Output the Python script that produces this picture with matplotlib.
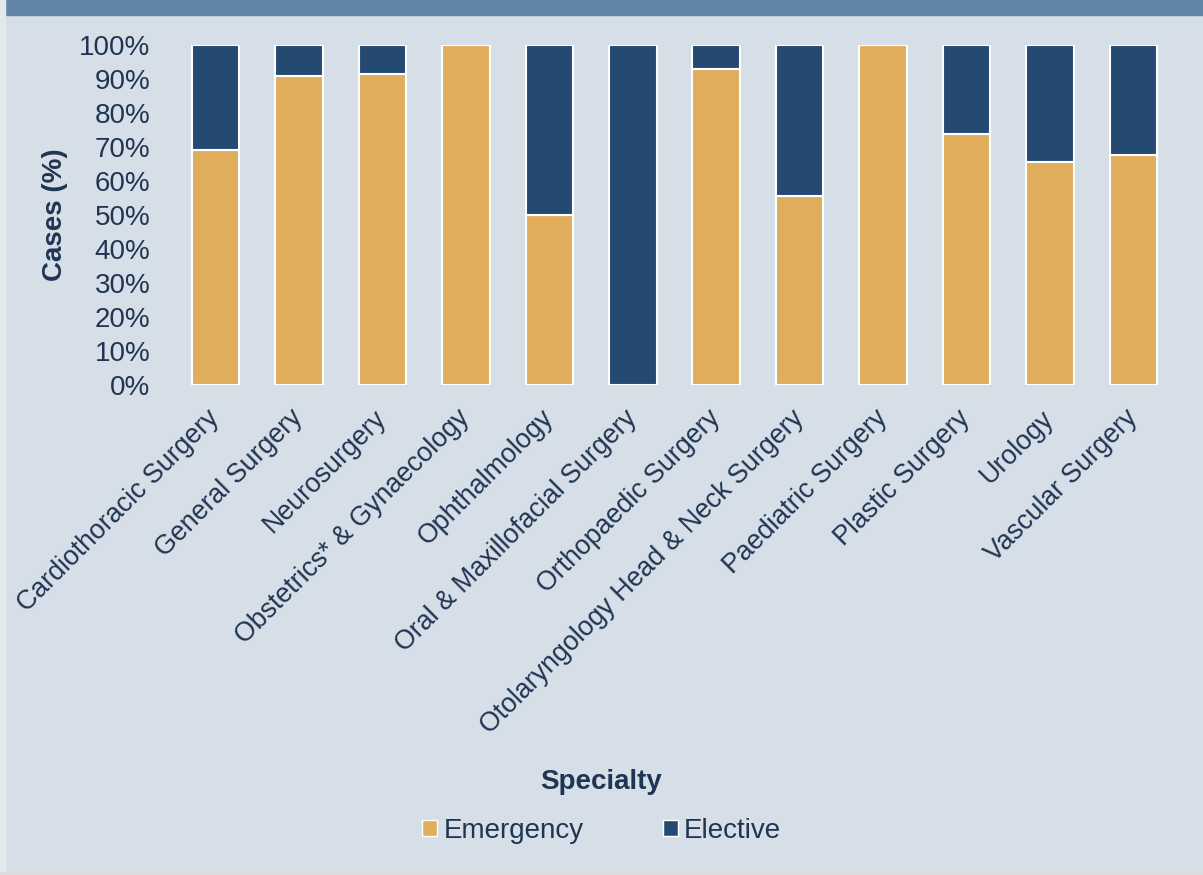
import numpy as np
import matplotlib.pyplot as plt
from matplotlib.patches import Patch, Rectangle

specialties = ['Cardiothoracic Surgery', 'General Surgery', 'Neurosurgery',
               'Obstetrics* & Gynaecology', 'Ophthalmology', 'Oral & Maxillofacial Surgery',
               'Orthopaedic Surgery', 'Otolaryngology Head & Neck Surgery', 'Paediatric Surgery',
               'Plastic Surgery', 'Urology', 'Vascular Surgery']
emergency = [69.1, 90.9, 91.5, 100.0, 50.0, 0.0, 92.9, 55.6, 100.0, 73.8, 65.6, 67.6]
elective = [100 - v for v in emergency]

bg = '#D6DFE8'
navy = '#1F3552'
c_emerg = '#E0AD5C'
c_elect = '#254A72'

plt.rcParams['font.family'] = ['Liberation Sans', 'DejaVu Sans']

fig = plt.figure(figsize=(12.03, 8.75), dpi=100)
fig.patch.set_facecolor(bg)
# top band, side strip
fig.patches.append(Rectangle((0, 1 - 15 / 875), 1, 15 / 875, transform=fig.transFigure,
                             color='#6286AA', zorder=0))
fig.patches.append(Rectangle((0, 0), 5 / 1203, 1, transform=fig.transFigure,
                             color='#E4E9EE', zorder=0))
fig.patches.append(Rectangle((0, 0), 1, 3 / 875, transform=fig.transFigure,
                             color='#DCDCDC', zorder=0))

ax = fig.add_axes([174 / 1203, 1 - 385 / 875, (1175 - 174) / 1203, 340 / 875])
ax.set_facecolor(bg)

x = np.arange(len(specialties))
ax.bar(x, emergency, width=0.57, color=c_emerg, edgecolor='white', linewidth=1.5, label='Emergency')
ax.bar(x, elective, width=0.57, bottom=emergency, color=c_elect, edgecolor='white', linewidth=1.5,
       label='Elective')

ax.set_xlim(-0.5, len(specialties) - 0.5)
ax.set_ylim(0, 100)
ax.set_yticks(np.arange(0, 101, 10))
ax.set_yticklabels([f'{v}%' for v in range(0, 101, 10)], fontsize=20, color=navy)
ax.set_xticks(x)
ax.set_xticklabels(specialties, rotation=45, ha='right', va='center', rotation_mode='anchor',
                   fontsize=19.3, color=navy)
ax.tick_params(axis='both', length=0)
ax.tick_params(axis='y', pad=17)
ax.tick_params(axis='x', pad=21)
for s in ax.spines.values():
    s.set_visible(False)

ax.set_ylabel('Cases (%)', fontsize=20, fontweight='bold', color=navy, labelpad=8)
fig.text(0.5, 1 - 782 / 875, 'Specialty', fontsize=20, fontweight='bold', color=navy,
         ha='center', va='center')

handles = [Patch(facecolor=c_emerg, edgecolor='white', label='Emergency'),
           Patch(facecolor=c_elect, edgecolor='white', label='Elective')]
fig.legend(handles=handles, loc='center', bbox_to_anchor=(0.5, 1 - 831 / 875), ncol=2,
           frameon=False, fontsize=20, labelcolor=navy, handlelength=0.54, handleheight=0.54,
           handletextpad=0.22, columnspacing=2.85)

fig.savefig('out.png', dpi=100, facecolor=bg)
